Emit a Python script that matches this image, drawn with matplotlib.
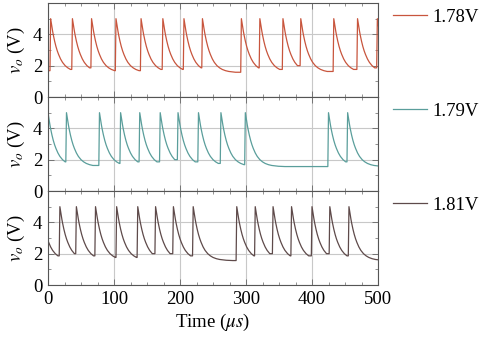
import numpy as np
import matplotlib
matplotlib.use("Agg")
import matplotlib.pyplot as plt

# spike onset times (us), one list per supply voltage
labels = ["1.78V", "1.79V", "1.81V"]
spikes_178 = [-35, 3, 36, 65, 102, 140, 173, 205, 233, 292, 320, 355, 382, 432, 468, 498]
spikes_179 = [-1, 27, 77, 109, 138, 169, 196, 227, 261, 298, 424, 453]
spikes_181 = [-12, 17, 42, 71, 103, 135, 162, 189, 219, 285, 313, 340, 368, 399, 426, 455]

# shape of one discharge: time after peak (us) -> v_o (V)
decay_t = [0, 1, 2, 3, 4, 6, 8, 10, 12, 15, 18, 22, 26, 30, 35, 40, 50, 60]
decay_v = [5.00, 4.72, 4.45, 4.20, 3.97, 3.57, 3.23, 2.95, 2.72, 2.43, 2.21,
           2.00, 1.86, 1.76, 1.68, 1.63, 1.58, 1.56]

colors = ["#c8553d", "#5a9e9b", "#5e4a4a"]

plt.rcParams["font.family"] = ["Liberation Serif", "DejaVu Serif"]
plt.rcParams["mathtext.fontset"] = "stix"
plt.rcParams["font.size"] = 13.5


def build_trace(spikes, t_end=500.0, rise=1.0):
    t, v = [], []
    for k, ts in enumerate(spikes):
        nxt = spikes[k + 1] if k + 1 < len(spikes) else t_end + 10
        if t:
            t.append(ts)
            v.append(v[-1])
        for off, val in zip(decay_t, decay_v):
            if ts + rise + off >= nxt:
                break
            t.append(ts + rise + off)
            v.append(val)
    t.append(t_end + 10)
    v.append(v[-1])
    return np.array(t), np.array(v)


fig = plt.figure(figsize=(4.82, 3.38), dpi=100)
left, right = 48 / 482, 378 / 482
tops = [3, 97, 191]
h = 94
axes = []
for i, top in enumerate(tops):
    ax = fig.add_axes([left, 1 - (top + h) / 338, right - left, h / 338])
    axes.append(ax)

for ax, spikes, lab, c in zip(axes, [spikes_178, spikes_179, spikes_181], labels, colors):
    t, v = build_trace(spikes)
    ax.plot(t, v, color=c, lw=0.9, label=lab)
    ax.set_xlim(0, 500)
    ax.set_ylim(0, 6)
    ax.set_yticks([0, 2, 4])
    ax.set_yticks([1, 3, 5], minor=True)
    ax.set_xticks(np.arange(0, 501, 100))
    ax.set_xticks(np.arange(0, 501, 25), minor=True)
    ax.grid(True, which="major", color="#c8c8c8", lw=0.8)
    ax.set_axisbelow(True)
    ax.tick_params(which="both", direction="in", top=True, right=True, color="#666666")
    ax.tick_params(which="major", length=4, width=0.6, pad=4)
    ax.tick_params(which="minor", length=2.5, width=0.5)
    for s in ax.spines.values():
        s.set_color("#555555")
        s.set_linewidth(0.8)
    ax.set_ylabel(r"$v_o$ (V)")
    ax.yaxis.set_label_coords(-0.063, 0.5)
    ax.legend(loc="upper left", bbox_to_anchor=(1.045, 0.94), frameon=False,
              borderaxespad=0, borderpad=0, handlelength=1.8, handletextpad=0.3)
    if ax is not axes[-1]:
        ax.tick_params(labelbottom=False)

axes[-1].set_xlabel(r"Time ($\mu s$)", labelpad=3)

fig.savefig("out.png", dpi=100)
